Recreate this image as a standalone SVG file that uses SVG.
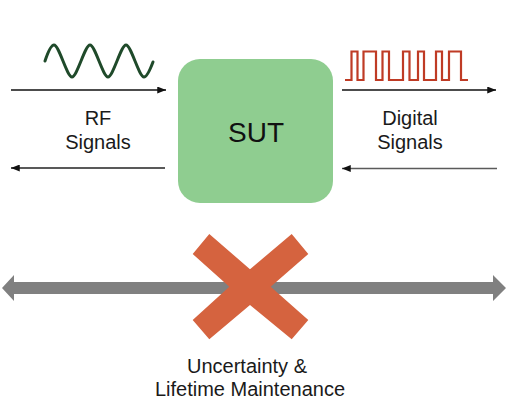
<svg xmlns="http://www.w3.org/2000/svg" width="509" height="412" viewBox="0 0 509 412">
  <style>
    .lbl { font-family: "Liberation Sans", Arial, sans-serif; font-size: 20px; fill: #1a1a1a; text-anchor: middle; }
    .sut { font-family: "Liberation Sans", Arial, sans-serif; font-size: 28px; fill: #111111; text-anchor: middle; }
    .conn { fill: none; stroke-width: 1.5; }
  </style>
  <defs>
    <marker id="ah" viewBox="0 0 10 8" refX="10" refY="4" markerUnits="userSpaceOnUse" markerWidth="9" markerHeight="7" orient="auto">
      <path d="M0,0 L10,4 L0,8 Z" fill="#111111"/>
    </marker>
  </defs>
  <rect width="509" height="412" fill="#ffffff"/>

  <g id="connectors">
    <line class="conn" x1="11" y1="90" x2="166" y2="90" stroke="#111111" marker-end="url(#ah)"/>
    <line class="conn" x1="165" y1="168" x2="11" y2="168" stroke="#222222" marker-end="url(#ah)"/>
    <line class="conn" x1="342" y1="90" x2="496" y2="90" stroke="#111111" marker-end="url(#ah)"/>
    <line class="conn" x1="497" y1="168.5" x2="342" y2="168.5" stroke="#5a5a5a" stroke-width="2" marker-end="url(#ah)"/>
    <polygon id="lifetime-arrow" fill="#808080" points="2,288 14,275 14,282 493,282 493,275 506,288 493,301 493,294 14,294 14,301"/>
  </g>

  <g id="rf-wave">
    <path d="M45,61 C48,52 51,45 54,45 C59,45 67,77 72,77 C77,77 85,45 90,45 C95,45 103,77 108,77 C113,77 121,45 126,45 C131,45 139,77 144,77 C147,77 150,70 153,62" fill="none" stroke="#1f4a2a" stroke-width="3" stroke-linecap="round"/>
  </g>

  <g id="digital-wave">
    <polyline fill="none" stroke="#bf3b25" stroke-width="2.2" points="345,80 351.5,80 351.5,51.5 357.5,51.5 357.5,80 363.5,80 363.5,51.5 376,51.5 376,80 382.5,80 382.5,51.5 389,51.5 389,80 403,80 403,51.5 409.5,51.5 409.5,80 418,80 418,51.5 424,51.5 424,80 436,80 436,51.5 442,51.5 442,80 449,80 449,51.5 461,51.5 461,80 468,80"/>
  </g>

  <g id="rf-label">
    <text class="lbl" x="98" y="125">RF</text>
    <text class="lbl" x="98" y="149">Signals</text>
  </g>

  <g id="digital-label">
    <text class="lbl" x="410" y="125">Digital</text>
    <text class="lbl" x="410" y="149">Signals</text>
  </g>

  <g id="sut">
    <rect x="178" y="59" width="155" height="144" rx="22" ry="22" fill="#8fcd90"/>
    <text class="sut" x="256" y="142">SUT</text>
  </g>

  <g id="cross">
    <polygon fill="#d5633f" points="209.3,234 250,269.3 291.7,234 308.3,254 270.7,286.7 308.3,320 291.7,339.3 250,305 209.3,339.3 192.7,320 229.3,286.7 192.7,254"/>
  </g>

  <g id="uncertainty-label">
    <text class="lbl" x="247" y="373">Uncertainty &amp;</text>
    <text class="lbl" x="250" y="396">Lifetime Maintenance</text>
  </g>
</svg>
